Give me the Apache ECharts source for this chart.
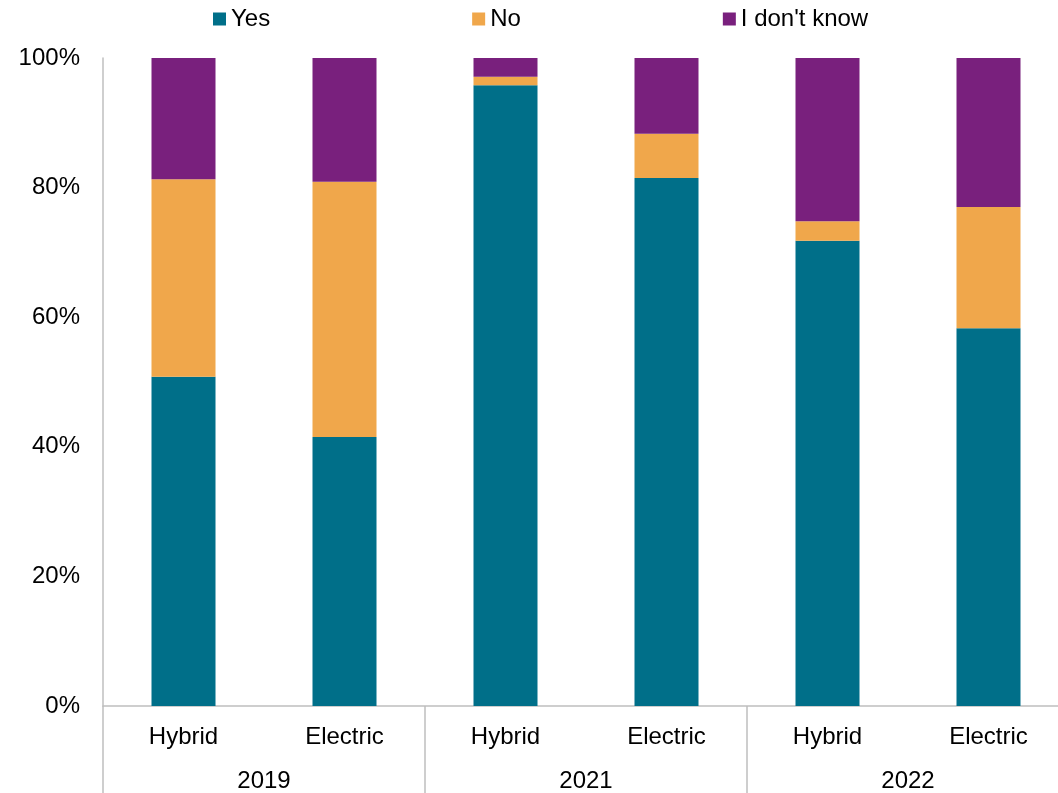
<!DOCTYPE html>
<html>
<head>
<meta charset="utf-8">
<script src="https://cdn.jsdelivr.net/npm/echarts@6/dist/echarts.min.js"></script>
<style>html,body{margin:0;padding:0;background:#fff}#c{width:1058px;height:793px}</style>
</head>
<body>
<div id="c"></div>
<script>
const categories = ['Hybrid', 'Electric', 'Hybrid', 'Electric', 'Hybrid', 'Electric'];
const years = ['2019', '2021', '2022'];
const yesValues = [50.8, 41.5, 95.8, 81.5, 71.8, 58.3];
const noValues = [30.5, 39.4, 1.3, 6.8, 3.0, 18.7];
const dontKnowValues = [18.7, 19.1, 2.9, 11.7, 25.2, 23.0];
const yTicks = [0, 20, 40, 60, 80, 100];

const font = 'Liberation Sans, Arial, sans-serif';
const axisGrey = '#bfbfbf';
const chart = echarts.init(document.getElementById('c'));
chart.setOption({
  animation: false,
  textStyle: { fontFamily: font },
  legend: {
    top: 2, left: 208, itemWidth: 13, itemHeight: 13, itemGap: 202,
    icon: 'rect',
    textStyle: { fontSize: 24, color: '#000', fontFamily: font },
    data: ['Yes', 'No', "I don't know"]
  },
  grid: { left: 103, top: 58, bottom: 87, width: 966, outerBoundsMode: 'none', containLabel: false },
  xAxis: [
    {
      type: 'category', data: categories, position: 'bottom',
      axisLine: { show: true, lineStyle: { color: axisGrey, width: 1.5 } },
      axisTick: { show: false },
      axisLabel: { fontSize: 24, color: '#000', margin: 19, fontFamily: font, interval: 0 }
    },
    {
      type: 'category', data: years, position: 'bottom',
      axisLine: { show: false },
      axisTick: { show: true, length: 87, interval: 0, lineStyle: { color: axisGrey, width: 1.5 } },
      axisLabel: { fontSize: 24, color: '#000', margin: 63, fontFamily: font, interval: 0 }
    }
  ],
  yAxis: {
    type: 'value', min: yTicks[0], max: yTicks[yTicks.length - 1], interval: 20,
    axisLine: { show: true, lineStyle: { color: axisGrey, width: 1.5 } },
    axisTick: { show: false },
    splitLine: { show: false },
    axisLabel: { formatter: '{value}%', fontSize: 24, color: '#000', margin: 23, fontFamily: font }
  },
  series: [
    { name: 'Yes', type: 'bar', stack: 's', data: yesValues, barWidth: 64, itemStyle: { color: '#006f89' } },
    { name: 'No', type: 'bar', stack: 's', data: noValues, barWidth: 64, itemStyle: { color: '#f0a74b' } },
    { name: "I don't know", type: 'bar', stack: 's', data: dontKnowValues, barWidth: 64, itemStyle: { color: '#79207d' } }
  ]
});
</script>
</body>
</html>
